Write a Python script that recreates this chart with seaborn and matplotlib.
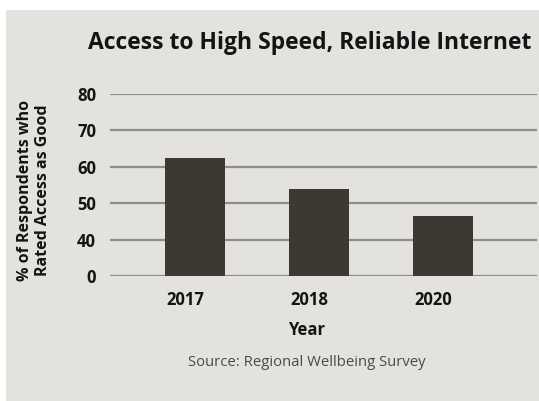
import matplotlib
matplotlib.use("Agg")
import matplotlib.pyplot as plt
import matplotlib.transforms as mtransforms
from matplotlib.patches import Rectangle
import seaborn as sns
import pandas as pd

# Survey results
years = ["2017", "2018", "2020"]
pct_good = [62.3, 53.8, 46.5]
ytick_values = [30, 40, 50, 60, 70, 80]
ytick_labels = ["0", "40", "50", "60", "70", "80"]

PANEL = "#e3e2de"
BAR = "#3d3932"
GRID = "#8e8d89"
TEXT = "#141414"

sns.set_style("white", {"axes.facecolor": PANEL})
plt.rcParams["font.family"] = ["Open Sans", "DejaVu Sans"]

W, H = 539, 401
fig = plt.figure(figsize=(W / 100, H / 100), dpi=100, facecolor="white")

# grey card behind the chart
fig.patches.append(Rectangle((6 / W, 0), 1, 1 - 10 / H, transform=fig.transFigure,
                             facecolor=PANEL, edgecolor="none", zorder=-5))

ax = fig.add_axes([110 / W, 1 - 276 / H, (537 - 110) / W, (276 - 94) / H])
ax.set_facecolor(PANEL)
ax.set_zorder(2)

df = pd.DataFrame({"year": years, "pct": pct_good})
sns.barplot(data=df, x="year", y="pct", color=BAR, saturation=1, width=0.484,
            edgecolor="none", linewidth=0, ax=ax, zorder=3)

# broken axis: the baseline tick stands for zero
ax.set_ylim(30, 80)
ax.set_xlim(-0.685, 2.758)
ax.set_yticks(ytick_values)
ax.set_yticklabels(ytick_labels)
ax.yaxis.grid(True, color=GRID, lw=1.6, zorder=1)
ax.set_axisbelow(True)
for s in ax.spines.values():
    s.set_visible(False)
ax.tick_params(axis="both", length=0, labelcolor=TEXT)
ax.tick_params(axis="y", pad=10, labelsize=12)
ax.tick_params(axis="x", pad=11, labelsize=12)
for lab in ax.get_yticklabels() + ax.get_xticklabels():
    lab.set_fontweight("bold")
shift = mtransforms.ScaledTranslation(-10 / 100, 0, fig.dpi_scale_trans)
for lab in ax.get_xticklabels():
    lab.set_transform(lab.get_transform() + shift)
ax.set_xlabel("")
ax.set_ylabel("")

fig.text(88 / W, 1 - 43 / H, "Access to High Speed, Reliable Internet",
         ha="left", va="center", fontsize=16.5, fontweight="bold", color=TEXT)
fig.text(34 / W, 1 - 190 / H, "% of Respondents who\nRated Access as Good",
         rotation=90, ha="center", va="center", fontsize=11.5, fontweight="bold",
         color=TEXT, linespacing=1.15)
fig.text(307 / W, 1 - 330 / H, "Year", ha="center", va="center",
         fontsize=12, fontweight="bold", color=TEXT)
fig.text(307 / W, 1 - 362 / H, "Source: Regional Wellbeing Survey",
         ha="center", va="center", fontsize=10.7, color="#4a4a4a")

fig.savefig("out.png", dpi=100, facecolor="white")
